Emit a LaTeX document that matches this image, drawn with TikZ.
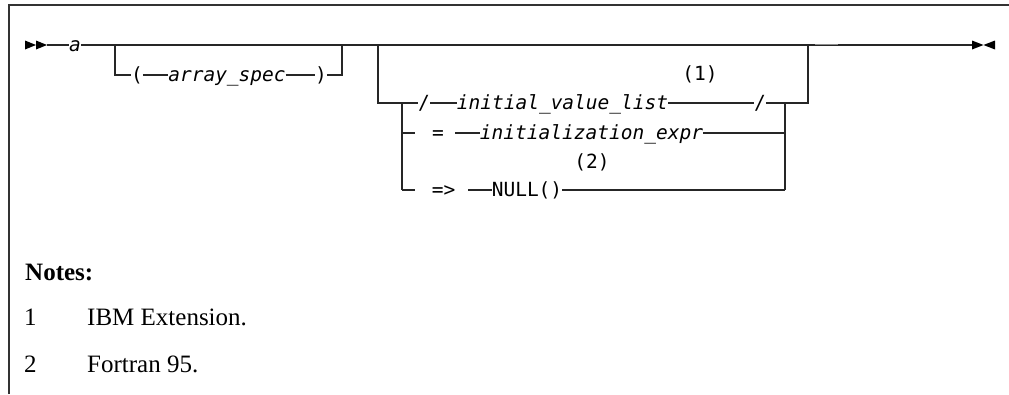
\documentclass[tikz,border=0pt]{standalone}
\usepackage{fontspec}
\setmainfont{Liberation Serif}
\newfontfamily\diagfont{DejaVu Sans Mono}
\begin{document}
\begin{tikzpicture}[x=1pt,y=1pt,
  ln/.style={line width=1.3pt, draw=black!85},
  frame/.style={line width=1.4pt, draw=black!80},
  syn/.style={inner sep=0pt, outer sep=0pt, text height=16pt, text depth=4pt,
    font=\diagfont\fontsize{19.5}{20}\selectfont},
  var/.style={syn, font=\diagfont\itshape\fontsize{19.5}{20}\selectfont},
  note/.style={inner sep=0pt, anchor=base west, font=\fontsize{25}{28}\selectfont},
  tip/.style={fill=black}]
\useasboundingbox (0,0) rectangle (1009,-394);
% frame
\draw[frame] (9,-394) -- (9,-5) -- (1009,-5);
% main line
\coordinate (s) at (47,-45);
\coordinate (e) at (972,-45);
\fill[tip] (25,-40.5) -- (25,-49.5) -- (36,-45) -- cycle;
\fill[tip] (36,-40.5) -- (36,-49.5) -- (47,-45) -- cycle;
\fill[tip] (972,-40.5) -- (972,-49.5) -- (983.5,-45) -- cycle;
\fill[tip] (995,-40.5) -- (995,-49.5) -- (983.5,-45) -- cycle;
\node[var] (a) at (75,-45) {a};
\draw[ln] (s) -- (a.west);
\draw[ln] (a.east) -- (e);
\draw[line width=1.6pt, draw=black!45] (815,-44.5) -- (838,-44.5);
% optional array_spec
\coordinate (b1) at (115,-45);
\coordinate (b1d) at (115,-75);
\coordinate (b2) at (342,-45);
\coordinate (b2d) at (342,-75);
\node[syn] (lpar) at (137,-75) {(};
\node[var] (aspec) at (227,-75) {array\_spec};
\node[syn] (rpar) at (321,-75) {)};
\draw[ln] (b1) -- (b1d) -- (lpar.west);
\draw[ln] (lpar.east) -- (aspec.west);
\draw[ln] (aspec.east) -- (rpar.west);
\draw[ln] (rpar.east) -- (b2d) -- (b2);
% optional initialisation group
\coordinate (c1) at (378,-45);
\coordinate (c1d) at (378,-103);
\coordinate (c2) at (808,-45);
\coordinate (c2d) at (808,-103);
\node[syn] (sl1) at (424,-103) {/};
\node[var] (ivl) at (562.5,-103) {initial\_value\_list};
\node[syn] (sl2) at (760,-103) {/};
\node[syn] (n1) at (700,-74) {(1)};
\draw[ln] (c1) -- (c1d) -- (sl1.west);
\draw[ln] (sl1.east) -- (ivl.west);
\draw[ln] (ivl.east) -- (sl2.west);
\draw[ln] (sl2.east) -- (c2d) -- (c2);
% inner alternatives
\coordinate (c3) at (402,-103);
\coordinate (c3d) at (402,-190);
\coordinate (c4) at (785,-103);
\coordinate (c4d) at (785,-190);
\draw[ln] (c3) -- (c3d);
\draw[ln] (c4) -- (c4d);
% row 2
\coordinate (r2s) at (402,-133);
\coordinate (r2a) at (415,-133);
\coordinate (r2b) at (455,-133);
\coordinate (r2e) at (785,-133);
\node[syn] (eq) at (438,-133) {=};
\node[var] (ie) at (591.5,-133) {initialization\_expr};
\draw[ln] (r2s) -- (r2a);
\draw[ln] (r2b) -- (ie.west);
\draw[ln] (ie.east) -- (r2e);
% row 3
\coordinate (r3a) at (415,-190);
\coordinate (r3b) at (468,-190);
\node[syn] (ptr) at (443.5,-190) {=>};
\node[syn] (null) at (527,-190) {NULL()};
\node[syn] (n2) at (592,-162) {(2)};
\draw[ln] (c3d) -- (r3a);
\draw[ln] (r3b) -- (null.west);
\draw[ln] (null.east) -- (c4d);
% notes
\node[note, font=\bfseries\fontsize{25}{28}\selectfont] (notes) at (25,-280) {Notes:};
\node[note] (k1) at (24,-325) {1};
\node[note] (t1) at (87,-325) {IBM Extension.};
\node[note] (k2) at (24,-372) {2};
\node[note] (t2) at (87,-372) {Fortran 95.};
\end{tikzpicture}
\end{document}
